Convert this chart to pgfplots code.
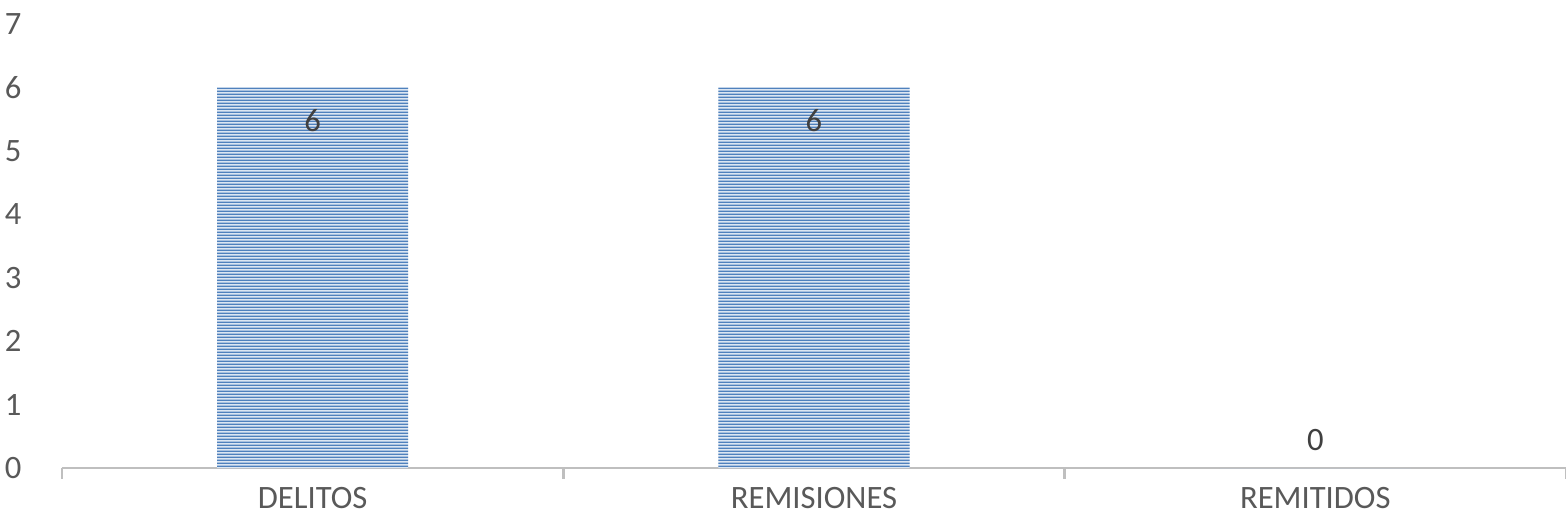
\documentclass[border=0pt]{standalone}
\usepackage{pgfplots}
\pgfplotsset{compat=1.18}
\usepackage{fontspec}
\setmainfont{Carlito}
\usetikzlibrary{patterns.meta}
\definecolor{barblue}{HTML}{4F81BD}
\definecolor{barlight}{HTML}{DCE6F2}
\definecolor{txtgray}{HTML}{595959}
\definecolor{lblgray}{HTML}{404040}
\definecolor{axgray}{HTML}{BFBFBF}
\tikzdeclarepattern{
  name=finehl,
  type=uncolored,
  bounding box={(0pt,0pt) and (2pt,1.15pt)},
  tile size={(2pt,1.15pt)},
  code={\pgfpathrectangle{\pgfpoint{-0.2pt}{0pt}}{\pgfpoint{2.4pt}{0.68pt}}\pgfusepath{fill}}
}
\begin{document}
\begin{tikzpicture}
\begin{axis}[
  at={(0,0)}, anchor=south west,
  scale only axis,
  width=576.2pt, height=170.1pt,
  xmin=-0.5, xmax=2.5,
  ymin=0, ymax=7,
  axis y line=none,
  axis x line*=bottom,
  x axis line style={axgray, line width=0.9pt, -},
  ytick={0,1,2,3,4,5,6,7},
  xtick={0,1,2},
  xticklabels={DELITOS,REMISIONES,REMITIDOS},
  tick style={axgray, line width=0.9pt},
  major tick length=0pt,
  extra x ticks={-0.5,0.5,1.5,2.5},
  extra x tick labels={},
  extra x tick style={major tick length=4.2pt, tick align=outside},
  tick label style={font=\fontsize{12.5}{14}\selectfont, text=txtgray},
  x tick label style={yshift=-4pt},
  /pgf/number format/assume math mode=true,
  clip=false,
]
\addplot[ybar, bar width=73.2pt, draw=none, fill=barlight,
  postaction={pattern={finehl}, pattern color=barblue}]
  coordinates {(0,6) (1,6) (2,0)};
% y tick labels
\foreach \v in {0,...,7}{
  \edef\tmp{\noexpand\node[anchor=east, font=\noexpand\fontsize{12.5}{14}\noexpand\selectfont, text=txtgray, inner sep=0pt] at (axis cs:-0.5,\v) [xshift=-15.3pt] {\v};}
  \tmp
}
\node[font=\fontsize{12.5}{14}\selectfont, text=lblgray] at (axis cs:0,6) [yshift=-12.6pt] {6};
\node[font=\fontsize{12.5}{14}\selectfont, text=lblgray] at (axis cs:1,6) [yshift=-12.6pt] {6};
\node[font=\fontsize{12.5}{14}\selectfont, text=lblgray] at (axis cs:2,0) [yshift=10.7pt] {0};
\end{axis}
\pgfresetboundingbox
\path[use as bounding box] (-23.75pt,-21.1pt) rectangle (576.2pt,179.3pt);
\end{tikzpicture}
\end{document}
